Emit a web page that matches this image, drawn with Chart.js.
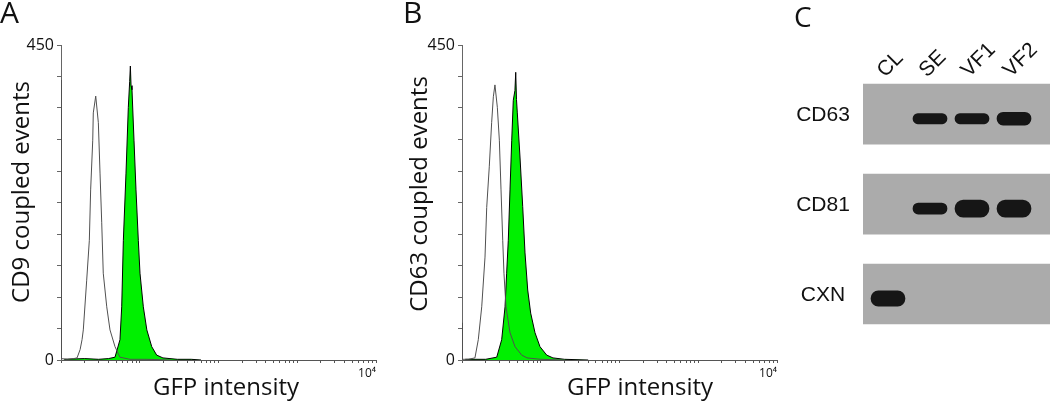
<!DOCTYPE html>
<html>
<head>
<meta charset="utf-8">
<script src="https://cdn.jsdelivr.net/npm/chart.js@4.4.1/dist/chart.umd.min.js"></script>
<style>
  html, body { margin: 0; padding: 0; background: #fff; }
  body { width: 1050px; height: 402px; position: relative; overflow: hidden; }
  canvas { position: absolute; top: 0; }
  #histA { left: 0; }
  #histB { left: 400px; }
  #blot { left: 780px; }
</style>
</head>
<body>
<canvas id="histA" width="400" height="402"></canvas>
<canvas id="histB" width="390" height="402"></canvas>
<canvas id="blot" width="270" height="402"></canvas>
<script>
// panel A - CD9 capture, control vs GFP
const ctrlIntensityA = [1, 1.01, 1.2, 1.45, 1.6, 1.75, 1.85, 1.92, 2.12, 2.29, 2.38, 2.53, 2.57, 2.76, 2.98, 3.13, 3.29, 3.44, 3.81, 4.19, 4.85, 5.6, 7.5, 12, 25];
const ctrlCountsA    = [400, 2, 1, 2, 3, 15, 29, 43, 114, 171, 243, 314, 353, 377, 339, 267, 196, 124, 76, 43, 19, 4, 1, 1, 0];
const cd9IntensityA  = [1.1, 2, 3, 4, 4.85, 5.61, 5.9, 6.19, 6.69, 7.16, 7.45, 7.6, 7.75, 7.97, 8.45, 8.96, 9.59, 10.07, 11.1, 12.3, 14.2, 16.4, 19.7, 24.2, 30, 45, 60];
const cd9CountsA     = [1, 2, 1, 2, 4, 29, 76, 171, 267, 361, 398, 420, 392, 386, 314, 243, 171, 124, 76, 43, 19, 7, 3, 2, 1, 1, 0];

// panel B - CD63 capture
const ctrlIntensityB = [1, 1.01, 1.2, 1.46, 1.61, 1.78, 1.96, 2.06, 2.22, 2.38, 2.5, 2.62, 2.81, 2.98, 3.13, 3.29, 3.41, 3.62, 4.07, 4.71, 5.73, 6.69, 10, 20];
const ctrlCountsB    = [53, 1, 1, 3, 29, 76, 147, 218, 276, 339, 376, 393, 361, 314, 243, 171, 124, 76, 39, 19, 7, 3, 1, 0];
const cd63IntensityB = [1.1, 2, 2.76, 3.19, 3.52, 3.69, 3.87, 4.07, 4.28, 4.48, 4.7, 4.81, 4.92, 5.04, 5.45, 5.9, 6.31, 6.83, 7.45, 8.45, 9.78, 11.9, 14.3, 20, 40];
const cd63CountsB    = [1, 1, 4, 29, 76, 124, 171, 243, 314, 371, 385, 411, 372, 353, 290, 219, 153, 100, 67, 39, 19, 7, 3, 1, 0];

const yTickLabels = { 0: '0', 450: '450' };
const xTickLabels = { 10000: '10\u2074' };

// panel C - western blot, band strength per lane
const lanes = ['CL', 'SE', 'VF1', 'VF2'];
const markers = ['CD63', 'CD81', 'CXN'];
const cd63Bands = [0, 0.6, 0.6, 0.75];
const cd81Bands = [0, 0.65, 1, 1];
const cxnBands  = [0.9, 0, 0, 0];

const FONT = "'Open Sans', 'DejaVu Sans', sans-serif";
const ARIAL = "'Liberation Sans', Arial, sans-serif";
Chart.defaults.font.family = FONT;
Chart.defaults.color = '#111';

function drawText(ctx, it) {
  ctx.save();
  ctx.translate(it.x, it.y);
  if (it.rotate) ctx.rotate(it.rotate);
  ctx.font = it.font;
  ctx.fillStyle = '#111';
  ctx.textAlign = it.align || 'center';
  ctx.textBaseline = it.baseline || 'alphabetic';
  ctx.fillText(it.text, 0, 0);
  ctx.restore();
}

const textPlugin = (items) => ({
  id: 'panelText',
  afterDraw(chart) {
    items(chart).forEach(it => drawText(chart.ctx, it));
  }
});

const toPoints = (xs, ys) => xs.map((x, i) => ({ x, y: ys[i] }));

// 1..9 x 10^k minor ticks for the log axis
const logTicks = [];
for (let e = 0; e < 4; e++) for (let s = 1; s < 10; s++) logTicks.push(s * Math.pow(10, e));
logTicks.push(10000);

function makeHistogram(id, ctrl, pos, layout, texts) {
  return new Chart(document.getElementById(id), {
    type: 'line',
    data: {
      datasets: [
        { data: ctrl, borderColor: '#505050', borderWidth: 1, pointRadius: 0, fill: false, tension: 0 },
        { data: pos, borderColor: '#000', borderWidth: 1, pointRadius: 0, fill: 'origin', backgroundColor: 'rgb(0,240,0)', tension: 0 }
      ]
    },
    options: {
      responsive: false,
      animation: false,
      layout: { padding: { top: 45, right: layout.right, left: 0, bottom: 0 } },
      plugins: { legend: { display: false }, tooltip: { enabled: false } },
      scales: {
        x: {
          type: 'logarithmic', min: 1, max: 10000,
          afterBuildTicks: s => { s.ticks = logTicks.map(v => ({ value: v })); },
          afterFit: s => { s.height = 42; },
          grid: { drawOnChartArea: false, tickLength: 3, color: '#555' },
          border: { color: '#555' },
          ticks: {
            autoSkip: false, maxRotation: 0, align: 'end', padding: 3,
            font: { size: 12 },
            callback: v => xTickLabels[v] || ''
          }
        },
        y: {
          min: 0, max: 450,
          afterFit: s => { s.width = layout.left; },
          grid: { drawOnChartArea: false, tickLength: 4, color: '#666' },
          border: { color: '#666' },
          ticks: {
            stepSize: 45, padding: 3,
            font: { size: 16 },
            callback: v => yTickLabels[v] || ''
          }
        }
      }
    },
    plugins: [textPlugin(() => texts)]
  });
}

makeHistogram('histA', toPoints(ctrlIntensityA, ctrlCountsA), toPoints(cd9IntensityA, cd9CountsA),
  { left: 61, right: 24 }, [
    { text: 'A', x: 0, y: 23, font: `30px ${FONT}`, align: 'left' },
    { text: 'CD9 coupled events', x: 22, y: 192, rotate: -Math.PI / 2, font: `24px ${FONT}`, baseline: 'middle' },
    { text: 'GFP intensity', x: 226, y: 395, font: `24px ${FONT}` }
  ]);

makeHistogram('histB', toPoints(ctrlIntensityB, ctrlCountsB), toPoints(cd63IntensityB, cd63CountsB),
  { left: 62, right: 13 }, [
    { text: 'B', x: 3, y: 23, font: `30px ${FONT}`, align: 'left' },
    { text: 'CD63 coupled events', x: 20, y: 194, rotate: -Math.PI / 2, font: `24px ${FONT}`, baseline: 'middle' },
    { text: 'GFP intensity', x: 240, y: 395, font: `24px ${FONT}` }
  ]);

// blot: lanes on a linear x axis, markers on a reversed linear y axis
const X_MIN = -0.595, X_MAX = 3.857;
const BAND_OFFSET = 0.05, BAND_SCALE = 0.095;
const bandRows = [cd63Bands, cd81Bands, cxnBands];
const bands = [];
bandRows.forEach((row, r) => row.forEach((s, l) => {
  if (s > 0) bands.push({ x: l, y: [r + BAND_OFFSET - s * BAND_SCALE, r + BAND_OFFSET + s * BAND_SCALE] });
}));

new Chart(document.getElementById('blot'), {
  type: 'bar',
  data: {
    datasets: [
      { indexAxis: 'x', data: bands, barThickness: 34, grouped: false, borderRadius: 12, borderSkipped: false, backgroundColor: '#161616' },
      { indexAxis: 'y', data: markers.map((m, i) => ({ y: i, x: [X_MIN, X_MAX] })), barThickness: 60, grouped: false, backgroundColor: '#ababab' }
    ]
  },
  options: {
    responsive: false,
    animation: false,
    layout: { padding: { top: 80, right: 0, left: 83, bottom: 63 } },
    plugins: { legend: { display: false }, tooltip: { enabled: false } },
    scales: {
      x: { type: 'linear', display: false, offset: false, beginAtZero: false, min: X_MIN, max: X_MAX, grid: { offset: false } },
      y: { type: 'linear', display: false, offset: false, beginAtZero: false, reverse: true, min: -0.38, max: 2.5, grid: { offset: false } }
    }
  },
  plugins: [textPlugin(chart => {
    const xs = chart.scales.x, ys = chart.scales.y;
    const items = [{ text: 'C', x: 14, y: 27, font: `28px ${FONT}`, align: 'left' }];
    lanes.forEach((l, i) => items.push({
      text: l, x: xs.getPixelForValue(i) - 3, y: 78, rotate: -Math.PI / 4,
      font: `21px ${ARIAL}`, align: 'left'
    }));
    markers.forEach((m, i) => items.push({
      text: m, x: 43, y: ys.getPixelForValue(i) + 1, font: `21px ${ARIAL}`, baseline: 'middle'
    }));
    return items;
  })]
});
</script>
</body>
</html>
